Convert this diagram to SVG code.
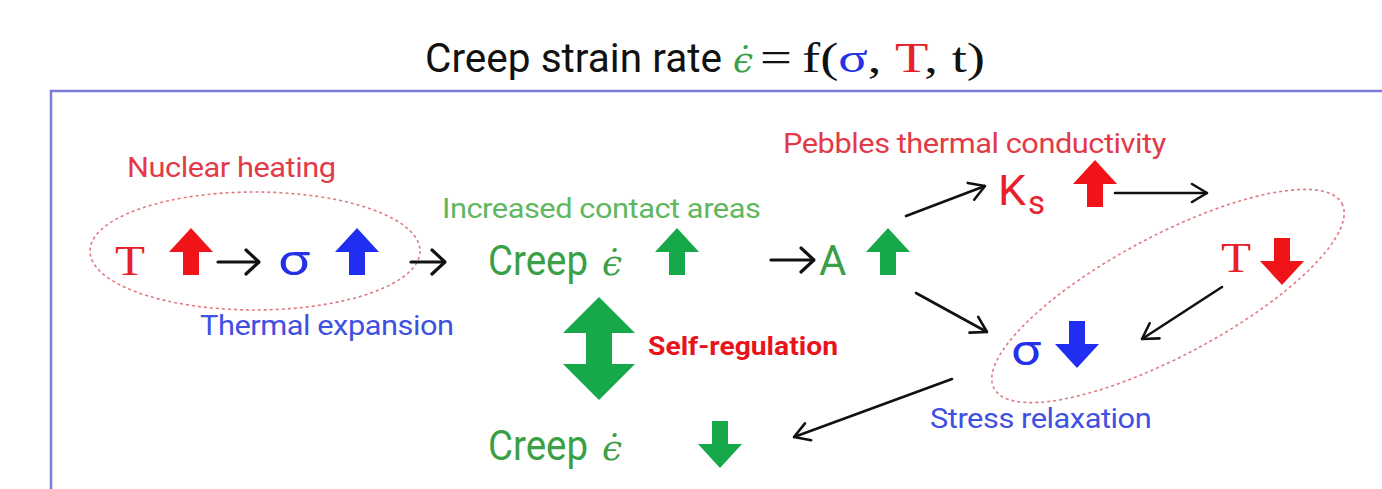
<svg xmlns="http://www.w3.org/2000/svg" width="1382" height="489" viewBox="0 0 1382 489">
<defs>
<style>
.lab{font-family:Roboto,"Liberation Sans",sans-serif;font-size:27px;letter-spacing:-0.4px}
.big{font-family:Roboto,"Liberation Sans",sans-serif;font-size:42px}
.ser{font-family:"Liberation Serif","DejaVu Serif",serif}
.eps{font-family:"DejaVu Serif","Liberation Serif",serif;font-style:italic}
.red{fill:#e8202a}.blue{fill:#2431e6}.green{fill:#3a9f46}.lgreen{fill:#5fb85f}
.lred{fill:#e33a48}.lblue{fill:#3f50e2}
.conn{fill:none;stroke:#111;stroke-width:2.6;stroke-linecap:round}
.short{fill:none;stroke:#111;stroke-width:3.2;stroke-linecap:round}
.dash{fill:none;stroke:#e07a80;stroke-width:1.6;stroke-dasharray:3 3}
</style>
<path id="up" d="M0,0 L22,24 L8,24 L8,47 L-8,47 L-8,24 L-22,24 Z"/>
<marker id="oa" viewBox="0 0 18 22" refX="17" refY="11" markerWidth="18" markerHeight="22" markerUnits="userSpaceOnUse" orient="auto">
<path d="M2,2 L17,11 L2,20" fill="none" stroke="#111" stroke-width="2.6" stroke-linecap="round" stroke-linejoin="round"/>
</marker>
<marker id="sa" viewBox="0 0 16 28" refX="15" refY="14" markerWidth="16" markerHeight="28" markerUnits="userSpaceOnUse" orient="auto">
<path d="M2,2 L15,14 L2,26" fill="none" stroke="#111" stroke-width="3.2" stroke-linecap="round" stroke-linejoin="round"/>
</marker>
</defs>
<rect width="1382" height="489" fill="#fff"/>
<path d="M51,489 L51,91 L1382,91" fill="none" stroke="#7b7bd9" stroke-width="2.5"/>
<g id="title">
<text x="425" y="72" class="big" style="font-size:41px" fill="#111" textLength="297" lengthAdjust="spacingAndGlyphs">Creep strain rate</text>
<text x="733" y="72" class="eps green" font-size="36">ϵ̇</text>
<text x="760" y="72" class="ser" font-size="44" fill="#111" textLength="32" lengthAdjust="spacingAndGlyphs">=</text>
<text x="802" y="72" class="ser" font-size="42" fill="#111" textLength="183" lengthAdjust="spacingAndGlyphs">f(<tspan class="blue">σ</tspan>, <tspan class="red">T</tspan>, t)</text>
</g>
<g id="group-heating">
<ellipse cx="255" cy="251" rx="165" ry="59" class="dash"/>
<text transform="translate(127 177) scale(1.14 1)" class="lab lred">Nuclear heating</text>
<text transform="translate(200 335) scale(1.14 1)" class="lab lblue">Thermal expansion</text>
</g>
<g id="group-relax">
<ellipse cx="1168" cy="296" rx="197" ry="60" transform="rotate(-28 1168 296)" class="dash"/>
<text transform="translate(930 428) scale(1.14 1)" class="lab lblue">Stress relaxation</text>
</g>
<g id="node-T-up">
<text x="115" y="275" class="ser red" font-size="42" textLength="30" lengthAdjust="spacingAndGlyphs">T</text>
<use href="#up" x="191" y="228" fill="#f01418"/>
</g>
<g id="node-sigma-up">
<text x="278" y="275" class="big blue" textLength="32" lengthAdjust="spacingAndGlyphs">σ</text>
<use href="#up" x="357" y="228" fill="#1f2ef0"/>
</g>
<g id="node-creep-up">
<text transform="translate(442 218) scale(1.14 1)" class="lab lgreen">Increased contact areas</text>
<text x="488" y="275" class="big green" textLength="100" lengthAdjust="spacingAndGlyphs">Creep</text>
<text x="602" y="275" class="eps green" font-size="36">ϵ̇</text>
<use href="#up" x="677" y="228" fill="#17a84a"/>
</g>
<g id="node-A-up">
<text x="819" y="275" class="big green">A</text>
<use href="#up" x="888" y="228" fill="#17a84a"/>
</g>
<g id="node-Ks-up">
<text transform="translate(783 153) scale(1.14 1)" class="lab lred">Pebbles thermal conductivity</text>
<text x="998" y="205" class="big red" textLength="28" lengthAdjust="spacingAndGlyphs">K</text>
<text x="1028" y="214" class="big red" style="font-size:33px">s</text>
<use href="#up" x="1095" y="160" fill="#f01418"/>
</g>
<g id="node-T-down">
<text x="1221" y="272" class="ser red" font-size="42" textLength="30" lengthAdjust="spacingAndGlyphs">T</text>
<use href="#up" transform="translate(1282 285) rotate(180)" fill="#f01418"/>
</g>
<g id="node-sigma-down">
<text x="1011" y="365" class="big blue" textLength="30" lengthAdjust="spacingAndGlyphs">σ</text>
<use href="#up" transform="translate(1077 368) rotate(180)" fill="#1f2ef0"/>
</g>
<g id="node-selfreg">
<path d="M599,297 L635,333 L612,333 L612,364 L635,364 L599,400 L563,364 L586,364 L586,333 L563,333 Z" fill="#17a84a"/>
<text x="648" y="355" font-family="Roboto,'Liberation Sans',sans-serif" font-weight="bold" font-size="26" fill="#e8141c" textLength="190" lengthAdjust="spacingAndGlyphs">Self-regulation</text>
</g>
<g id="node-creep-down">
<text x="488" y="460" class="big green" textLength="100" lengthAdjust="spacingAndGlyphs">Creep</text>
<text x="602" y="460" class="eps green" font-size="36">ϵ̇</text>
<use href="#up" transform="translate(720 468) rotate(180)" fill="#17a84a"/>
</g>
<g id="connectors">
<path d="M218,262 L259,262" class="short" marker-end="url(#sa)"/>
<path d="M411,262 L445,262" class="short" marker-end="url(#sa)"/>
<path d="M771,260 L814,260" class="short" marker-end="url(#sa)"/>
<path d="M906,216 L985,186" class="conn" marker-end="url(#oa)"/>
<path d="M1115,193 L1207,193" class="conn" marker-end="url(#oa)"/>
<path d="M916,293 L987,332" class="conn" marker-end="url(#oa)"/>
<path d="M1222,287 L1142,339" class="conn" marker-end="url(#oa)"/>
<path d="M952,379 L794,437" class="conn" marker-end="url(#oa)"/>
</g>
</svg>
